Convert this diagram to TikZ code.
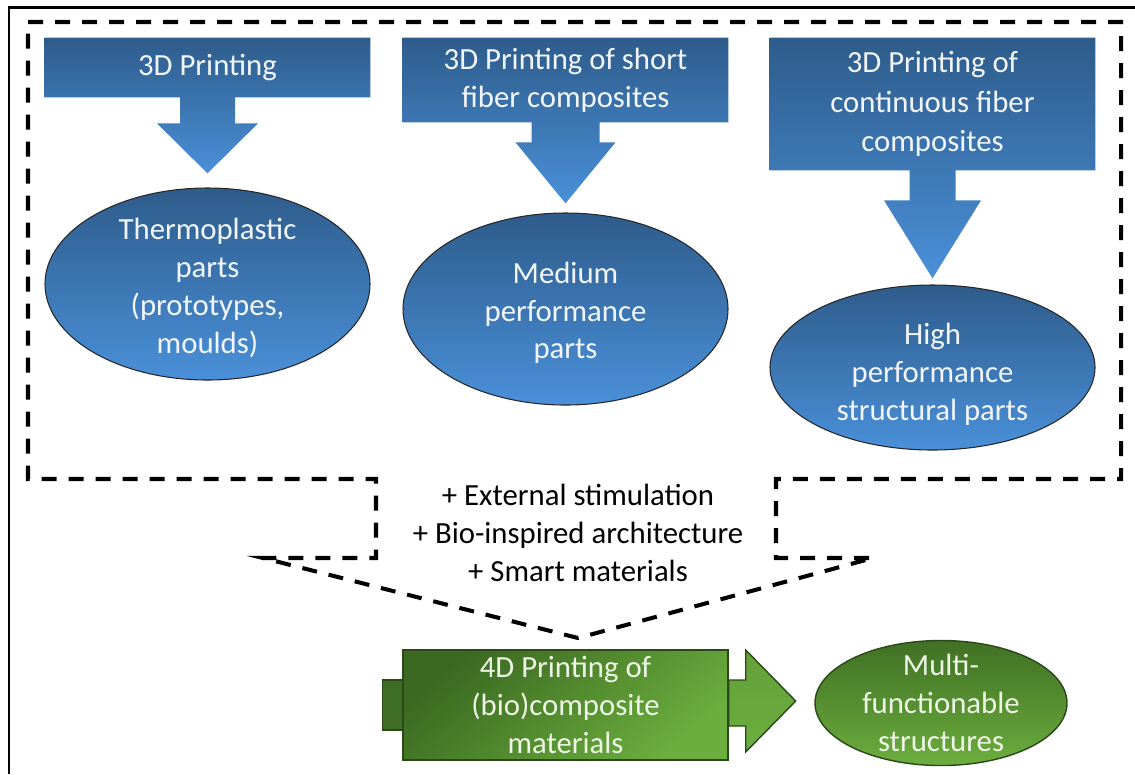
\documentclass[tikz,border=0pt]{standalone}
\usepackage{fontspec}
\setmainfont{Carlito}
\usepackage{tikz}
\usetikzlibrary{positioning,shapes.geometric,backgrounds,calc}

\definecolor{bluetop}{HTML}{2E5C8B}
\definecolor{bluebot}{HTML}{4A90D9}
\definecolor{bluetxt}{HTML}{F2F6FA}
\definecolor{greentop}{HTML}{3B6921}
\definecolor{greenbot}{HTML}{6CAE3E}
\definecolor{greenline}{HTML}{2A4818}
\definecolor{greentab}{HTML}{3E6D25}
\definecolor{greentxt}{HTML}{EEF5E6}

\begin{document}
\begin{tikzpicture}[
    x=0.2mm, y=-0.2mm,
    every node/.style={font=\fontsize{17.5}{21.5}\selectfont, align=center, inner sep=0pt},
    callout/.style={minimum width=65mm, text=bluetxt},
    blueshape/.style={top color=bluetop, bottom color=bluebot},
    ell/.style={ellipse, draw=black!85, line width=0.6pt, minimum width=65mm,
      top color=bluetop, bottom color=bluebot},
    etxt/.style={text=bluetxt, yshift=-0.8mm},
    gbox/.style={minimum width=65mm, minimum height=22mm, draw=greenline, line width=0.8pt,
      top color=greentop, bottom color=greenbot, shading angle=40, text=greentxt},
    garrow/.style={draw=greenline, line width=0.8pt, top color=greenbot!92!black, bottom color=greenbot},
    gell/.style={ellipse, minimum width=50.4mm, minimum height=25mm, draw=greenline, line width=0.8pt,
      top color=greentop!90!greenbot, bottom color=greenbot},
    gtxt/.style={text=greentxt},
    frame/.style={line width=2.3pt, dash pattern=on 3mm off 2.4mm},
  ]
  \useasboundingbox (0,0) rectangle (1135,774);

  % outer frame
  \draw[line width=1.7pt] (9,774) -- (9,7) -- (1135,7);

  % 3D printing routes
  \node[callout, minimum height=11.8mm] (p1) at (207.5,67.5) {3D Printing};
  \node[callout, minimum height=16.8mm] (p2) at (565.5,80) {3D Printing of short\\fiber composites};
  \node[callout, minimum height=26.4mm, font=\fontsize{17.5}{22.5}\selectfont] (p3) at (932.5,104) {3D Printing of\\continuous fiber\\composites};

  \begin{scope}[on background layer]
    \foreach \n/\s/\l/\h/\t in {p1/27.5/26/50.5/50, p2/34/20/50/61, p3/23/30/48.5/78}
      \path[blueshape] (\n.north west) -- (\n.north east) -- (\n.south east)
        -- ($(\n.south)+(\s,0)$) -- ($(\n.south)+(\s,\l)$) -- ($(\n.south)+(\h,\l)$)
        -- ($(\n.south)+(0,\l+\t)$) -- ($(\n.south)+(-\h,\l)$) -- ($(\n.south)+(-\s,\l)$)
        -- ($(\n.south)+(-\s,0)$) -- (\n.south west) -- cycle;
  \end{scope}

  % resulting parts
  \node[ell, minimum height=38.4mm,
    label={[etxt]center:{Thermoplastic\\parts\\(prototypes,\\moulds)}}] (e1) at (207.5,284) {};
  \node[ell, minimum height=38.4mm,
    label={[etxt]center:{Medium\\performance\\parts}}] (e2) at (565.5,309) {};
  \node[ell, minimum height=33mm,
    label={[etxt, yshift=-0.6mm]center:{High\\performance\\structural parts}}] (e3) at (932.5,367.5) {};

  % dashed callout
  \draw[frame] (28,22) -- (1121,22) -- (1121,479) -- (776,479) -- (776,558) -- (873,558)
    -- (578,638) -- (263,558) -- (376,558) -- (376,479) -- (28,479) -- cycle;

  \node (mid) at (578,533) {+ External stimulation\\+ Bio-inspired architecture\\+ Smart materials};

  % 4D printing
  \node[gbox] (g1) at (565.5,705) {4D Printing of\\(bio)composite\\materials};
  \draw[draw=greenline, line width=0.8pt, fill=greentab] ($(g1.west)+(-20,-25)$) rectangle ($(g1.west)+(0,25)$);
  \draw[garrow] ($(g1.east)+(0,-25)$) -- ($(g1.east)+(17,-25)$) -- ($(g1.east)+(17,-55)$)
    -- ($(g1.east)+(67,-4)$) -- ($(g1.east)+(17,47)$) -- ($(g1.east)+(17,21)$)
    -- ($(g1.east)+(0,21)$) -- cycle;

  \node[gell, label={[gtxt]center:{Multi-\\functionable\\structures}}] (m1) at (941,703) {};
\end{tikzpicture}
\end{document}
